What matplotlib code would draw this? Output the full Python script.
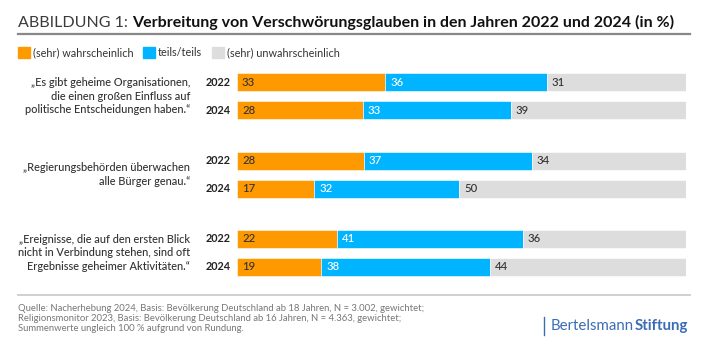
import matplotlib
matplotlib.use("Agg")
import matplotlib.pyplot as plt
from matplotlib.patches import Rectangle
from matplotlib.lines import Line2D

plt.rcParams['font.family'] = ['Lato', 'DejaVu Sans']

# ---- data ----
statements = [
    "„Es gibt geheime Organisationen,\ndie einen großen Einfluss auf\npolitische Entscheidungen haben.“",
    "„Regierungsbehörden überwachen\nalle Bürger genau.“",
    "„Ereignisse, die auf den ersten Blick\nnicht in Verbindung stehen, sind oft\nErgebnisse geheimer Aktivitäten.“",
]
years = ["2022", "2024"]
series_names = ["(sehr) wahrscheinlich", "teils/teils", "(sehr) unwahrscheinlich"]
wahrscheinlich = [[33, 28], [28, 17], [22, 19]]
teils = [[36, 33], [37, 32], [41, 38]]
unwahrscheinlich = [[31, 39], [34, 50], [36, 44]]

title_light = "ABBILDUNG 1: "
title_bold = "Verbreitung von Verschwörungsglauben in den Jahren 2022 und 2024 (in %)"
footer = ("Quelle: Nacherhebung 2024, Basis: Bevölkerung Deutschland ab 18 Jahren, N = 3.002, gewichtet;\n"
          "Religionsmonitor 2023, Basis: Bevölkerung Deutschland ab 16 Jahren, N = 4.363, gewichtet;\n"
          "Summenwerte ungleich 100 % aufgrund von Rundung.")

colors = ["#FF9900", "#00B4FF", "#DDDDDD"]
label_colors = ["#333333", "white", "#333333"]

W, H = 708, 359
fig = plt.figure(figsize=(W / 100, H / 100), dpi=100)
fig.patch.set_facecolor("white")

def fx(px):
    return px / W

def fy(py):
    return 1 - py / H

# ---- title ----
t1 = fig.text(fx(18), fy(27), title_light, fontsize=11.55, color="#3a3a3a",
              fontweight="normal", va="baseline", ha="left")
fig.canvas.draw()
r = fig.canvas.get_renderer()
bb = t1.get_window_extent(renderer=r)
fig.text(bb.x1 / W, fy(27), title_bold, fontsize=11.55, color="#111111",
         fontweight="bold", va="baseline", ha="left")
fig.add_artist(Line2D([fx(18), fx(690)], [fy(34), fy(34)], color="#888888", lw=1.6))

# ---- legend ----
lx = [18, 143, 212]
for i, name in enumerate(series_names):
    fig.add_artist(Rectangle((fx(lx[i]), fy(58)), fx(12), 11 / H, color=colors[i],
                             transform=fig.transFigure))
    fig.text(fx(lx[i] + 15), fy(52.5), name, fontsize=7.8, color="#333333",
             va="center", ha="left")

# ---- bars (100 % stacked, each row scaled to its rounded total) ----
ax = fig.add_axes([fx(237), 0, fx(449), 1])
ax.set_xlim(0, 100)
ax.set_ylim(H, 0)
ax.axis("off")

group_center0, group_step, row_half = 96, 78.5, 14
bar_h = 18
for g, stmt in enumerate(statements):
    gc = group_center0 + g * group_step
    fig.text(fx(190), fy(gc), stmt, fontsize=7.9, color="#333333", ha="right",
             va="center", linespacing=1.25, multialignment="right",
             fontweight="medium")
    for k, yr in enumerate(years):
        y = gc - row_half + 2 * row_half * k
        vals = [wahrscheinlich[g][k], teils[g][k], unwahrscheinlich[g][k]]
        total = sum(vals)
        left = 0
        for s, v in enumerate(vals):
            w = v * 100 / total
            ax.barh(y, w, left=left, height=bar_h, color=colors[s],
                    edgecolor="white", linewidth=0.4)
            ax.text(left + 1.1, y, str(v), color=label_colors[s], fontsize=8.2,
                    va="center", ha="left", fontweight="medium")
            left += w
        fig.text(fx(231), fy(y), yr, fontsize=7.8, color="#222222",
                 fontweight="bold", ha="right", va="center")

# ---- footer ----
fig.add_artist(Line2D([fx(18), fx(690)], [fy(295), fy(295)], color="#CCCCCC", lw=1.3))
fig.text(fx(18), fy(304), footer, fontsize=6.85, color="#777777", ha="left",
         va="top", linespacing=1.14)
fig.add_artist(Line2D([fx(544), fx(544)], [fy(317), fy(335)], color="#3A6DB5", lw=1.0))
b1 = fig.text(fx(551), fy(326), "Bertelsmann", fontsize=10.8, color="#3A6DB5",
              ha="left", va="center")
fig.canvas.draw()
bb = b1.get_window_extent(renderer=fig.canvas.get_renderer())
fig.text(bb.x1 / W + 0.001, fy(326), "Stiftung", fontsize=10.8, color="#3A6DB5",
         fontweight="bold", ha="left", va="center")

fig.savefig("out.png", dpi=100, facecolor="white")
